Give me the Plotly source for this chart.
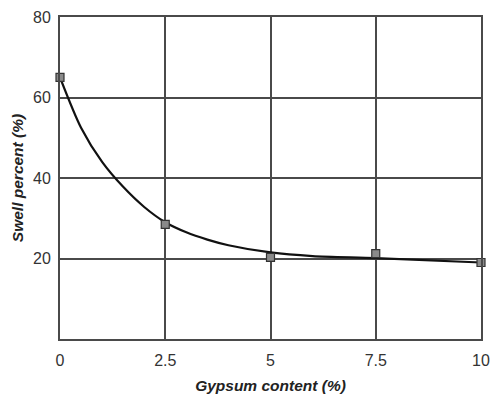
import plotly.graph_objects as go

# Measured swell at each gypsum content
gypsum = [0, 2.5, 5, 7.5, 10]
swell = [65, 28.5, 20.3, 21.2, 19.0]

# Trend curve through the measurements
trend_x = [0, 0.5, 1, 1.5, 2, 2.5, 3, 3.5, 4, 5, 6, 7.5, 10]
trend_y = [65, 52.5, 44, 37.8, 32.8, 29, 26.5, 24.7, 23.3, 21.5, 20.6, 20.1, 19]

x_ticks = [0, 2.5, 5, 7.5, 10]
x_tick_text = ["0", "2.5", "5", "7.5", "10"]
y_ticks = [20, 40, 60, 80]

grid_col = "#4a4a4a"

fig = go.Figure()
fig.add_trace(go.Scatter(
    x=trend_x, y=trend_y, mode="lines",
    line=dict(color="#111111", width=2.2, shape="spline", smoothing=0.8),
    hoverinfo="skip", showlegend=False, cliponaxis=False,
))
fig.add_trace(go.Scatter(
    x=gypsum, y=swell, mode="markers",
    marker=dict(symbol="square", size=8, color="#8a8a8a",
                line=dict(color="#333333", width=1.2)),
    showlegend=False, cliponaxis=False,
))

axis_font = dict(family="Liberation Sans, Arial, sans-serif", size=16, color="#333333")
title_font = dict(family="Liberation Sans, Arial, sans-serif", size=15.5, color="#222222")

fig.update_layout(
    width=496, height=398,
    margin=dict(l=60, r=15, t=17, b=59),
    paper_bgcolor="white", plot_bgcolor="white",
    xaxis=dict(
        range=[0, 10], tickvals=x_ticks, ticktext=x_tick_text,
        showgrid=True, gridcolor=grid_col, gridwidth=1.5,
        showline=True, linecolor=grid_col, linewidth=2, mirror=True,
        zeroline=False, ticks="", tickfont=axis_font, ticklabelstandoff=6,
        automargin=False,
        title=dict(text="<b><i>Gypsum content (%)</i></b>", font=title_font, standoff=12),
    ),
    yaxis=dict(
        range=[0, 80], tickvals=y_ticks,
        showgrid=True, gridcolor=grid_col, gridwidth=1.5,
        showline=True, linecolor=grid_col, linewidth=2, mirror=True,
        zeroline=False, ticks="", tickfont=axis_font, ticklabelstandoff=4,
        automargin=False,
        title=dict(text="<b><i>Swell percent (%)</i></b>", font=title_font, standoff=6),
    ),
)

fig.write_html("out.html")
